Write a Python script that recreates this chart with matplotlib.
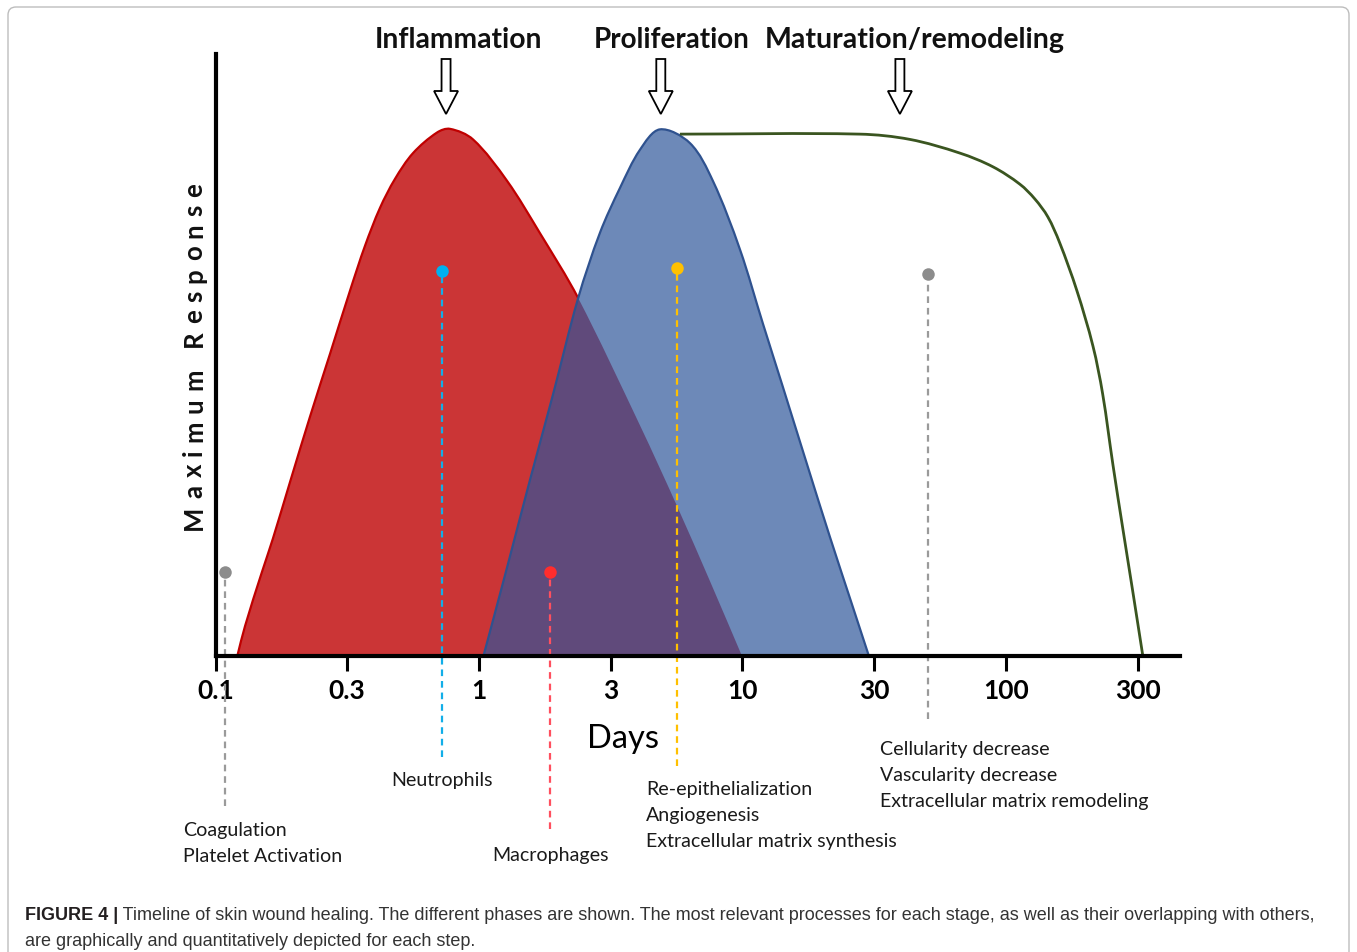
import matplotlib
matplotlib.use('Agg')
import numpy as np
import matplotlib.pyplot as plt
from matplotlib import font_manager
from matplotlib.patches import Polygon, FancyBboxPatch, PathPatch
from matplotlib.path import Path
from matplotlib.transforms import IdentityTransform
from matplotlib.ticker import NullLocator

# ---------------- data ----------------
tick_days = [0.1, 0.316, 1, 3.16, 10, 31.6, 100, 316]
tick_labels = ['0.1', '0.3', '1', '3', '10', '30', '100', '300']

# Inflammation curve
red_days = [0.121, 0.1295, 0.150, 0.165, 0.1918, 0.2284, 0.272, 0.324, 0.3693, 0.4210, 0.4800,
            0.562, 0.693, 0.776, 0.949, 1.28, 1.70, 2.38, 4.08, 5.64, 7.53, 9.96]
red_resp = [0, 5.7, 15.9, 22.2, 33.0, 45.4, 57.3, 69.3, 77.8, 85.0, 90.5,
            95.4, 99.3, 100, 98.0, 90.1, 80.3, 67.9, 43.8, 28.5, 14.2, 0]

# Proliferation curve
blue_days = [1.04, 1.28, 1.56, 1.91, 2.38, 2.88, 3.43, 4.08, 4.86, 6.32, 7.73,
             9.79, 11.97, 14.25, 17.58, 21.48, 26.25, 30.2]
blue_resp = [0, 16.9, 33.3, 49.6, 67.9, 80.3, 88.8, 96.0, 99.9, 97.3, 90.1,
             77.1, 63.0, 51.0, 36.4, 22.6, 9.3, 0]

# Maturation / remodeling curve
green_days = [5.79, 27.9, 43.2, 66.9, 89.3, 113, 128.8, 144.3, 160, 186, 214, 233,
              255, 278, 303, 331]
green_resp = [99.0, 99.0, 98.0, 95.4, 92.8, 89.5, 86.7, 83.3, 78.4, 69.3, 58.8, 49.7,
              36.2, 24.1, 12.3, 0]

phase_names = ['Inflammation', 'Proliferation', 'Maturation/remodeling']
phase_arrow_days = [0.75, 4.9, 39.6]

marker_days = [0.109, 0.724, 1.86, 5.64, 50.6]
marker_resp = [15.9, 73.1, 15.9, 73.6, 72.5]
marker_low = [-28.5, -19.2, -32.8, -20.9, -12.0]
marker_colors = ['#8C8C8C', '#00B0F0', '#FF2D2D', '#FFC000', '#8C8C8C']
marker_line_colors = ['#9A9A9A', '#12AEE8', '#FF4F5E', '#FFC000', '#9A9A9A']

process_lines = [
    ('Coagulation', 183, 836, 'left'),
    ('Platelet Activation', 183, 862, 'left'),
    ('Neutrophils', 442, 786, 'center'),
    ('Macrophages', 550, 861, 'center'),
    ('Re-epithelialization', 646, 795, 'left'),
    ('Angiogenesis', 646, 821, 'left'),
    ('Extracellular matrix synthesis', 646, 847, 'left'),
    ('Cellularity decrease', 880, 755, 'left'),
    ('Vascularity decrease', 880, 781, 'left'),
    ('Extracellular matrix remodeling', 880, 807, 'left'),
]

caption_bold = 'FIGURE 4 |'
caption_line1 = ' Timeline of skin wound healing. The different phases are shown. The most relevant processes for each stage, as well as their overlapping with others,'
caption_line2 = 'are graphically and quantitatively depicted for each step.'

# ---------------- style ----------------
RED_FILL = '#CB3536'
RED_EDGE = '#C00000'
BLUE_FILL = '#6D89B8'
BLUE_EDGE = '#2F528F'
PURPLE = '#604A7B'
GREEN = '#3A5520'

W, H, DPI = 1357, 953, 100
plt.rcParams['font.family'] = ['Lato', 'DejaVu Sans']
fig = plt.figure(figsize=(W / DPI, H / DPI), dpi=DPI, facecolor='white')

avail = {f.name for f in font_manager.fontManager.ttflist}
cap_font = 'Liberation Sans Narrow' if 'Liberation Sans Narrow' in avail else 'Liberation Sans'

left, right, top, bottom = 215.5, 1180, 55, 657
ax = fig.add_axes([left / W, 1 - bottom / H, (right - left) / W, (bottom - top) / H])
ax.set_xscale('log')
ax.set_xlim(0.1, 458)
ax.set_ylim(0, 114.2)
ax.patch.set_alpha(0)
for s in ['top', 'right']:
    ax.spines[s].set_visible(False)
for s in ['left', 'bottom']:
    ax.spines[s].set_linewidth(3.0)
    ax.spines[s].set_zorder(6)
ax.set_yticks([])
ax.set_xticks(tick_days)
ax.set_xticklabels(tick_labels)
ax.xaxis.set_minor_locator(NullLocator())
ax.tick_params(axis='x', direction='out', length=11, width=2.2, pad=5, labelsize=19)
for lab in ax.get_xticklabels():
    lab.set_fontweight('bold')


def smooth_path(days, resp, close=False):
    """Smooth (chord-length Catmull-Rom) Bezier path through the read points,
    built in display space from the axes' own data transform."""
    pts = ax.transData.transform(np.column_stack([days, resp]))
    n = len(pts)
    d = np.diff(pts, axis=0)
    L = np.hypot(d[:, 0], d[:, 1])
    tang = np.zeros_like(pts)
    for i in range(n):
        if i == 0:
            tang[i] = d[0] / L[0]
        elif i == n - 1:
            tang[i] = d[-1] / L[-1]
        else:
            tang[i] = (pts[i + 1] - pts[i - 1]) / (L[i - 1] + L[i])
    verts = [pts[0]]
    codes = [Path.MOVETO]
    for i in range(n - 1):
        c1 = pts[i] + tang[i] * L[i] / 3
        c2 = pts[i + 1] - tang[i + 1] * L[i] / 3
        verts += [c1, c2, pts[i + 1]]
        codes += [Path.CURVE4] * 3
    if close:
        verts.append(pts[0])
        codes.append(Path.CLOSEPOLY)
    return Path(verts, codes)


IT = IdentityTransform()
# curves
ax.add_patch(PathPatch(smooth_path(red_days, red_resp, True), fc=RED_FILL, lw=0, zorder=1, transform=IT))
ax.add_patch(PathPatch(smooth_path(red_days, red_resp), fill=False, ec=RED_EDGE, lw=1.6,
                       zorder=1.2, transform=IT))
blue_patch = PathPatch(smooth_path(blue_days, blue_resp, True), fc=BLUE_FILL, lw=0, zorder=2, transform=IT)
ax.add_patch(blue_patch)
overlap = PathPatch(smooth_path(red_days, red_resp, True), fc=PURPLE, lw=0, zorder=2.5, transform=IT)
ax.add_patch(overlap)
overlap.set_clip_path(blue_patch)
ax.add_patch(PathPatch(smooth_path(blue_days, blue_resp), fill=False, ec=BLUE_EDGE, lw=1.6,
                       zorder=3, transform=IT))
ax.add_patch(PathPatch(smooth_path(green_days, green_resp), fill=False, ec=GREEN, lw=2.0,
                       zorder=3, transform=IT))

# markers with dashed drop lines
for d, r, lo, mc, lc in zip(marker_days, marker_resp, marker_low, marker_colors, marker_line_colors):
    ax.plot([d, d], [lo, r], color=lc, lw=1.6, dashes=(3.0, 2.2), clip_on=False, zorder=4)
    ax.plot([d], [r], 'o', color=mc, ms=9, mec='none', clip_on=False, zorder=4.5)

# phase arrows (hollow)
for d in phase_arrow_days:
    cx = ax.transData.transform((d, 1))[0]
    t0, hs, tip, sw, hw = 60, 92, 115, 4.5, 12
    pts = [(cx - sw, t0), (cx + sw, t0), (cx + sw, hs), (cx + hw, hs), (cx, tip),
           (cx - hw, hs), (cx - sw, hs)]
    pts = [(x, H - y) for x, y in pts]
    fig.add_artist(Polygon(pts, closed=True, fc='white', ec='black', lw=1.3, transform=IT))

renderer = fig.canvas.get_renderer()


def width(t):
    return t.get_window_extent(renderer).width


def fit(t, target):
    t.set_fontsize(t.get_fontsize() * target / width(t))


# phase titles
for name, cx, tw in zip(phase_names, [458.5, 672, 915], [167, 155, 300]):
    t = fig.text(cx / W, 1 - 48 / H, name, ha='center', va='baseline', fontsize=19,
                 fontweight='bold', color='#111111')
    fit(t, tw)

# Days label
td = fig.text(623 / W, 1 - 748 / H, 'Days', ha='center', va='baseline', fontsize=23, color='black')
fit(td, 72)

# process annotations
probe = fig.text(0, 0, 'Extracellular matrix synthesis', fontsize=14)
fit(probe, 252)
pfs = probe.get_fontsize()
probe.remove()
for txt, x, yb, ha in process_lines:
    fig.text(x / W, 1 - yb / H, txt, ha=ha, va='baseline', fontsize=pfs, color='#1A1A1A')

# y label with letter spacing
ylab = 'Maximum Response'
yfs = 18.5
ws = []
for ch in ylab:
    if ch == ' ':
        t1 = fig.text(0, 0, 'n n', fontsize=yfs, fontweight='bold')
        t2 = fig.text(0, 0, 'nn', fontsize=yfs, fontweight='bold')
        ws.append(width(t1) - width(t2))
        t1.remove(); t2.remove()
    else:
        t1 = fig.text(0, 0, ch, fontsize=yfs, fontweight='bold')
        ws.append(width(t1))
        t1.remove()
gap = (347 - sum(ws)) / (len(ylab) - 1)
pos = 530
for ch, w in zip(ylab, ws):
    if ch != ' ':
        fig.text(202 / W, 1 - pos / H, ch, rotation=90, rotation_mode='anchor', ha='left',
                 va='baseline', fontsize=yfs, fontweight='bold', color='#111111')
    pos -= w + gap

# caption
tb = fig.text(25 / W, 1 - 920 / H, caption_bold, fontsize=12, fontweight='bold',
              family=cap_font, color='#231F20', va='baseline')
tr = fig.text(25 / W, 1 - 920 / H, caption_line1, fontsize=12, family=cap_font,
              color='#333333', va='baseline')
s = 12 * 1293 / (width(tb) + width(tr))
tb.set_fontsize(s)
tr.set_fontsize(s)
tr.set_x((25 + width(tb)) / W)
fig.text(25 / W, 1 - 946 / H, caption_line2, fontsize=s, family=cap_font,
         color='#333333', va='baseline')

# border
fig.add_artist(FancyBboxPatch((8, H - 975), 1341, 967,
                              boxstyle='round,pad=0,rounding_size=8',
                              transform=IT, fc='none', ec='#BDBDBD', lw=1.0))

fig.savefig('out.png', dpi=DPI, facecolor='white')
